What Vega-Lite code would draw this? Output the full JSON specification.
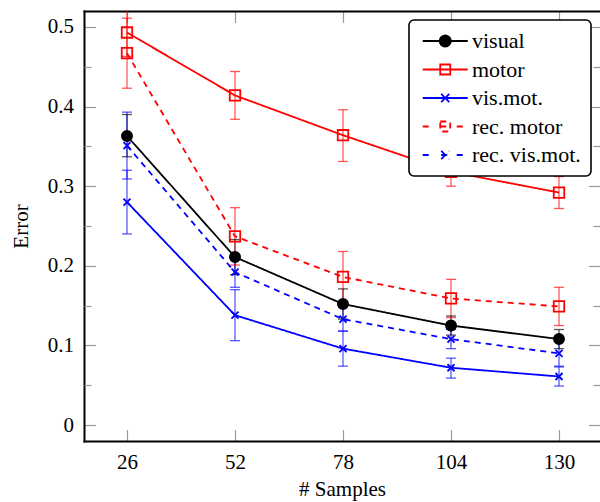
{
  "$schema": "https://vega.github.io/schema/vega-lite/v6.json",
  "width": 516,
  "height": 430,
  "autosize": {"type": "none"},
  "padding": {"left": 84, "top": 11, "right": 0, "bottom": 61},
  "config": {
    "view": {"stroke": null},
    "font": "Liberation Serif",
    "axis": {
      "grid": false,
      "tickColor": "#999999",
      "tickWidth": 1.2,
      "tickSize": -11.5,
      "domainColor": "black",
      "domainWidth": 2,
      "domainCap": "square",
      "labelFont": "Liberation Serif",
      "labelFontSize": 21,
      "labelColor": "black",
      "labelPadding": 22,
      "titleFont": "Liberation Serif",
      "titleFontSize": 21,
      "titleFontWeight": "normal",
      "titleColor": "black"
    }
  },
  "data": {
    "values": [
      {"series": "visual", "n": 26, "err": 0.363, "lo": 0.337, "hi": 0.390},
      {"series": "visual", "n": 52, "err": 0.211, "lo": 0.189, "hi": 0.233},
      {"series": "visual", "n": 78, "err": 0.152, "lo": 0.133, "hi": 0.171},
      {"series": "visual", "n": 104, "err": 0.125, "lo": 0.113, "hi": 0.137},
      {"series": "visual", "n": 130, "err": 0.108, "lo": 0.096, "hi": 0.120},
      {"series": "motor", "n": 26, "err": 0.493, "lo": 0.463, "hi": 0.523},
      {"series": "motor", "n": 52, "err": 0.414, "lo": 0.384, "hi": 0.444},
      {"series": "motor", "n": 78, "err": 0.364, "lo": 0.331, "hi": 0.396},
      {"series": "motor", "n": 104, "err": 0.318, "lo": 0.300, "hi": 0.336},
      {"series": "motor", "n": 130, "err": 0.292, "lo": 0.272, "hi": 0.312},
      {"series": "vis.mot.", "n": 26, "err": 0.280, "lo": 0.240, "hi": 0.320},
      {"series": "vis.mot.", "n": 52, "err": 0.138, "lo": 0.106, "hi": 0.170},
      {"series": "vis.mot.", "n": 78, "err": 0.096, "lo": 0.074, "hi": 0.118},
      {"series": "vis.mot.", "n": 104, "err": 0.072, "lo": 0.059, "hi": 0.084},
      {"series": "vis.mot.", "n": 130, "err": 0.061, "lo": 0.049, "hi": 0.073},
      {"series": "rec. motor", "n": 26, "err": 0.467, "lo": 0.423, "hi": 0.511},
      {"series": "rec. motor", "n": 52, "err": 0.237, "lo": 0.201, "hi": 0.273},
      {"series": "rec. motor", "n": 78, "err": 0.186, "lo": 0.154, "hi": 0.218},
      {"series": "rec. motor", "n": 104, "err": 0.159, "lo": 0.135, "hi": 0.183},
      {"series": "rec. motor", "n": 130, "err": 0.149, "lo": 0.125, "hi": 0.173},
      {"series": "rec. vis.mot.", "n": 26, "err": 0.351, "lo": 0.309, "hi": 0.393},
      {"series": "rec. vis.mot.", "n": 52, "err": 0.192, "lo": 0.173, "hi": 0.211},
      {"series": "rec. vis.mot.", "n": 78, "err": 0.133, "lo": 0.118, "hi": 0.148},
      {"series": "rec. vis.mot.", "n": 104, "err": 0.108, "lo": 0.096, "hi": 0.120},
      {"series": "rec. vis.mot.", "n": 130, "err": 0.090, "lo": 0.074, "hi": 0.106}
    ]
  },
  "resolve": {"axis": {"x": "independent", "y": "independent"}},
  "encoding": {
    "color": {"field": "series", "type": "nominal",
              "scale": {"domain": ["visual", "motor", "vis.mot.", "rec. motor", "rec. vis.mot."], "range": ["#000000", "#ff0000", "#0000ff", "#ff0000", "#0000ff"]},
              "legend": {
                "orient": "none", "legendX": 325, "legendY": 9, "title": null,
                "symbolSize": 121, "symbolStrokeWidth": 1.8, "labelOffset": 31,
                "padding": 10, "rowPadding": 6.5,
                "labelFont": "Liberation Serif", "labelFontSize": 22, "labelColor": "black",
                "strokeColor": "black", "fillColor": "white", "cornerRadius": 5,
                "symbolFillColor": "transparent",
                "encode": {
                  "legend": {"update": {"strokeWidth": {"value": 1.6}}},
                  "symbols": {"update": {
                    "shape": {"signal": "datum.value === 'visual' ? 'M-1.32,0H6.86M3.77,0A1,1,0,1,1,1.77,0A1,1,0,1,1,3.77,0ZM3.5,0A0.73,0.73,0,1,1,2.04,0A0.73,0.73,0,1,1,3.5,0ZM3.22,0A0.45,0.45,0,1,1,2.32,0A0.45,0.45,0,1,1,3.22,0ZM2.95,0A0.18,0.18,0,1,1,2.59,0A0.18,0.18,0,1,1,2.95,0Z' : datum.value === 'motor' ? 'M-1.32,0H6.86M1.86,-0.91H3.68V0.91H1.86Z' : datum.value === 'vis.mot.' ? 'M-1.32,0H6.86M2.04,-0.73L3.5,0.73M2.04,0.73L3.5,-0.73' : datum.value === 'rec. motor' ? 'M-1.32,0H-0.05M1.86,0H3.68M4.86,0H5.95M1.86,-0.91H3.68V0.91H1.86Z' : 'M-1.32,0H-0.05M2.04,0H3.5M4.86,0H5.95M2.04,-0.73L3.5,0.73M2.04,0.73L3.5,-0.73'"},
                    "strokeDash": {"value": [1, 0]},
                    "size": {"value": 121},
                    "opacity": {"value": 1}
                  }}
                }
              }}
  },
  "layer": [
    {
      "mark": {"type": "rule", "strokeWidth": 1.3, "opacity": 0.65, "clip": true},
      "encoding": {
        "x": {"field": "n", "type": "quantitative", "scale": {"domain": [15.65, 139.87], "nice": false, "zero": false},
              "axis": {"orient": "bottom", "values": [26, 52, 78, 104, 130], "title": "# Samples", "titlePadding": 6}},
        "y": {"field": "lo", "type": "quantitative", "scale": {"domain": [-0.02, 0.52], "nice": false, "zero": false},
              "axis": {"orient": "left", "values": [0, 0.1, 0.2, 0.3, 0.4, 0.5], "format": ".1~f", "title": "Error", "titlePadding": 16}},
        "y2": {"field": "hi"}
      }
    },
    {
      "mark": {"type": "point", "shape": "M-1,0H1", "size": 100, "filled": false, "strokeWidth": 1.3, "opacity": 0.65, "clip": true},
      "encoding": {
        "x": {"field": "n", "type": "quantitative", "scale": {"domain": [15.65, 139.87], "nice": false, "zero": false},
              "axis": {"orient": "top", "values": [26, 52, 78, 104, 130], "labels": false, "title": null}},
        "y": {"field": "lo", "type": "quantitative", "scale": {"domain": [-0.02, 0.52], "nice": false, "zero": false},
              "axis": {"orient": "right", "values": [0, 0.1, 0.2, 0.3, 0.4, 0.5], "labels": false, "title": null, "domain": false}}
      }
    },
    {
      "mark": {"type": "point", "shape": "M-1,0H1", "size": 100, "filled": false, "strokeWidth": 1.3, "opacity": 0.65, "clip": true},
      "encoding": {
        "x": {"field": "n", "type": "quantitative", "scale": {"domain": [15.65, 139.87], "nice": false, "zero": false}, "axis": null},
        "y": {"field": "hi", "type": "quantitative", "scale": {"domain": [-0.02, 0.52], "nice": false, "zero": false},
              "axis": {"orient": "left", "values": [0.05, 0.15, 0.25, 0.35, 0.45], "labels": false, "title": null, "domain": false, "tickSize": -7}}
      }
    },
    {
      "mark": {"type": "line", "strokeWidth": 1.8, "clip": true},
      "encoding": {
        "x": {"field": "n", "type": "quantitative", "scale": {"domain": [15.65, 139.87], "nice": false, "zero": false}, "axis": null},
        "y": {"field": "err", "type": "quantitative", "scale": {"domain": [-0.02, 0.52], "nice": false, "zero": false},
              "axis": {"orient": "right", "values": [0.05, 0.15, 0.25, 0.35, 0.45], "labels": false, "title": null, "domain": false, "tickSize": -7}},
        "strokeDash": {"field": "series", "type": "nominal",
                       "scale": {"domain": ["visual", "motor", "vis.mot.", "rec. motor", "rec. vis.mot."], "range": [[1, 0], [1, 0], [1, 0], [6, 5], [6, 5]]},
                       "legend": null}
      }
    },
    {
      "transform": [{"filter": "datum.series === 'visual'"}],
      "mark": {"type": "point", "shape": "circle", "size": 30, "filled": false, "strokeWidth": 6.5, "opacity": 1, "clip": true},
      "encoding": {
        "x": {"field": "n", "type": "quantitative", "scale": {"domain": [15.65, 139.87], "nice": false, "zero": false}, "axis": null},
        "y": {"field": "err", "type": "quantitative", "scale": {"domain": [-0.02, 0.52], "nice": false, "zero": false}, "axis": null}
      }
    },
    {
      "transform": [{"filter": "datum.series === 'motor' || datum.series === 'rec. motor'"}],
      "mark": {"type": "point", "shape": "square", "size": 110, "filled": false, "strokeWidth": 1.8, "opacity": 1, "clip": true},
      "encoding": {
        "x": {"field": "n", "type": "quantitative", "scale": {"domain": [15.65, 139.87], "nice": false, "zero": false}, "axis": null},
        "y": {"field": "err", "type": "quantitative", "scale": {"domain": [-0.02, 0.52], "nice": false, "zero": false}, "axis": null}
      }
    },
    {
      "transform": [{"filter": "datum.series === 'vis.mot.' || datum.series === 'rec. vis.mot.'"}],
      "mark": {"type": "point", "shape": "M-1,-1L1,1M-1,1L1,-1", "size": 49, "filled": false, "strokeWidth": 1.8, "opacity": 1, "clip": true},
      "encoding": {
        "x": {"field": "n", "type": "quantitative", "scale": {"domain": [15.65, 139.87], "nice": false, "zero": false}, "axis": null},
        "y": {"field": "err", "type": "quantitative", "scale": {"domain": [-0.02, 0.52], "nice": false, "zero": false}, "axis": null}
      }
    }
  ]
}
